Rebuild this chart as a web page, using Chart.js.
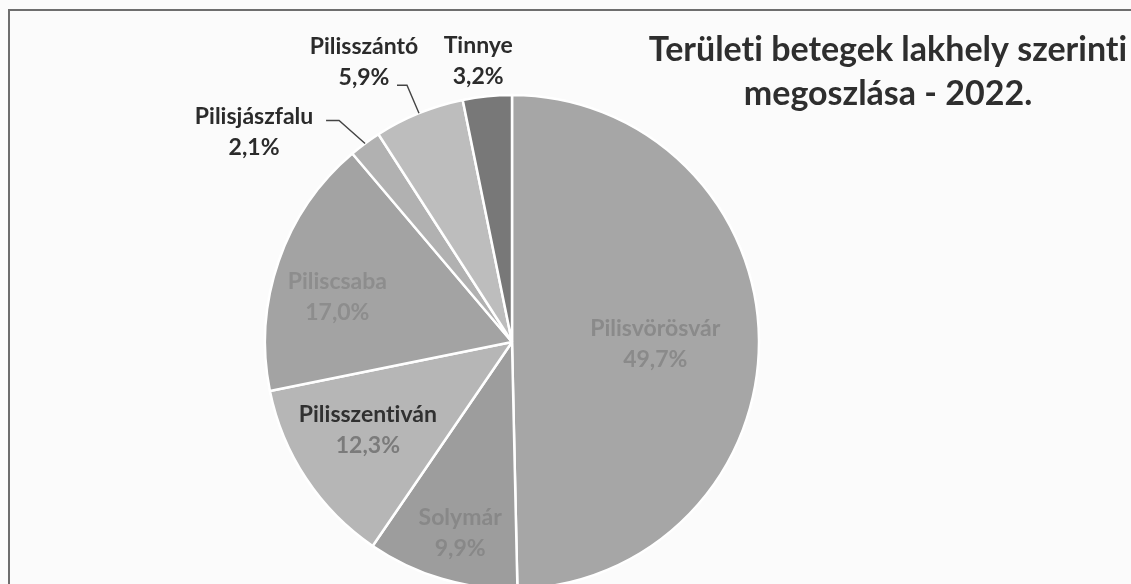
<!DOCTYPE html>
<html>
<head>
<meta charset="utf-8">
<script src="https://cdn.jsdelivr.net/npm/chart.js@4"></script>
<style>
  html, body { margin: 0; padding: 0; background: #fbfbfb; overflow: hidden; }
  #wrap { position: relative; width: 1131px; height: 584px; }
</style>
</head>
<body>
<div id="wrap"><canvas id="pieChart" width="1131" height="584"></canvas></div>
<script>
// data
const towns = ['Pilisvörösvár', 'Solymár', 'Pilisszentiván', 'Piliscsaba', 'Pilisjászfalu', 'Pilisszántó', 'Tinnye'];
const shares = [49.7, 9.9, 12.3, 17.0, 2.1, 5.9, 3.2];
const titleLines = ['Területi betegek lakhely szerinti', 'megoszlása - 2022.'];

// styling
const sliceColors = ['#a6a6a6', '#9d9d9d', '#b6b6b6', '#a3a3a3', '#b1b1b1', '#bdbdbd', '#787878'];
// where each label sits: inside labels by fraction of radius, outside ones above the rim
const labelStyle = [
    { inside: true, r: 0.58, dx: 0, dy: 3, name: '#8a8a8a', pct: '#8a8a8a' },
    { inside: true, r: 0.78, dx: 3, dy: 6, name: '#888888', pct: '#888888' },
    { inside: true, r: 0.70, dx: 0, dy: -8, name: '#303030', pct: '#7b7b7b' },
    { inside: true, r: 0.74, dx: -2, dy: 15, name: '#8d8d8d', pct: '#8d8d8d' },
    { inside: false, lx: -111, ly: -12, elbow: [-26, -23], tail: 13, name: '#2b2b2b', pct: '#2b2b2b' },
    { inside: false, lx: -55, ly: -52, elbow: [-12, -28], tail: 10, name: '#2b2b2b', pct: '#2b2b2b' },
    { inside: false, lx: -9, ly: -36, name: '#2b2b2b', pct: '#2b2b2b' }
];

const fmtPct = v => v.toFixed(1).replace('.', ',') + '%';

const framePlugin = {
    id: 'frame',
    beforeDraw(chart) {
        const ctx = chart.ctx;
        ctx.save();
        ctx.fillStyle = '#fbfbfb';
        ctx.fillRect(0, 0, chart.width, chart.height);
        ctx.strokeStyle = '#6e6e6e';
        ctx.lineWidth = 2;
        ctx.beginPath();
        ctx.moveTo(9, chart.height);
        ctx.lineTo(9, 10);
        ctx.lineTo(chart.width, 10);
        ctx.stroke();
        ctx.restore();
    },
    afterDraw(chart) {
        const ctx = chart.ctx;
        ctx.save();
        ctx.textRendering = 'optimizeSpeed';
        ctx.fillStyle = '#2e2e2e';
        ctx.font = 'bold 34px Lato, "Open Sans", sans-serif';
        ctx.textAlign = 'center';
        ctx.textBaseline = 'middle';
        ctx.fillText(titleLines[0], 888, 50);
        ctx.fillText(titleLines[1], 888, 94);
        ctx.restore();
    }
};

const labelPlugin = {
    id: 'sliceLabels',
    afterDatasetsDraw(chart) {
        const ctx = chart.ctx;
        const arcs = chart.getDatasetMeta(0).data;
        ctx.save();
        ctx.textRendering = 'optimizeSpeed';
        ctx.textAlign = 'center';
        ctx.textBaseline = 'middle';
        arcs.forEach((arc, i) => {
            const st = labelStyle[i];
            const mid = (arc.startAngle + arc.endAngle) / 2;
            const cx = arc.x, cy = arc.y, R = arc.outerRadius;
            let x, y;
            if (st.inside) {
                x = cx + Math.cos(mid) * R * st.r + st.dx;
                y = cy + Math.sin(mid) * R * st.r + st.dy;
            } else {
                const ex = cx + Math.cos(mid) * R;
                const ey = cy + Math.sin(mid) * R;
                x = ex + st.lx;
                y = ey + st.ly;
                if (st.elbow) {
                    ctx.strokeStyle = '#444';
                    ctx.lineWidth = 1.4;
                    ctx.beginPath();
                    ctx.moveTo(ex, ey);
                    ctx.lineTo(ex + st.elbow[0], ey + st.elbow[1]);
                    ctx.lineTo(ex + st.elbow[0] - st.tail, ey + st.elbow[1]);
                    ctx.stroke();
                }
            }
            ctx.font = 'bold 23px Lato, "Open Sans", sans-serif';
            ctx.fillStyle = st.name;
            ctx.fillText(towns[i], x, y - 15);
            ctx.fillStyle = st.pct;
            ctx.fillText(fmtPct(shares[i]), x, y + 16);
        });
        ctx.restore();
    }
};

new Chart(document.getElementById('pieChart'), {
    type: 'pie',
    data: {
        labels: towns,
        datasets: [
            {
                data: shares,
                backgroundColor: sliceColors,
                borderColor: '#ffffff',
                borderWidth: 2.5,
                clip: false
            }
        ]
    },
    options: {
        responsive: false,
        animation: false,
        radius: 247,
        layout: {
            padding: { left: 312, right: 419, top: 142, bottom: 42 }
        },
        plugins: {
            legend: { display: false },
            tooltip: { enabled: false },
            title: { display: false }
        }
    },
    plugins: [framePlugin, labelPlugin]
});
</script>
</body>
</html>
